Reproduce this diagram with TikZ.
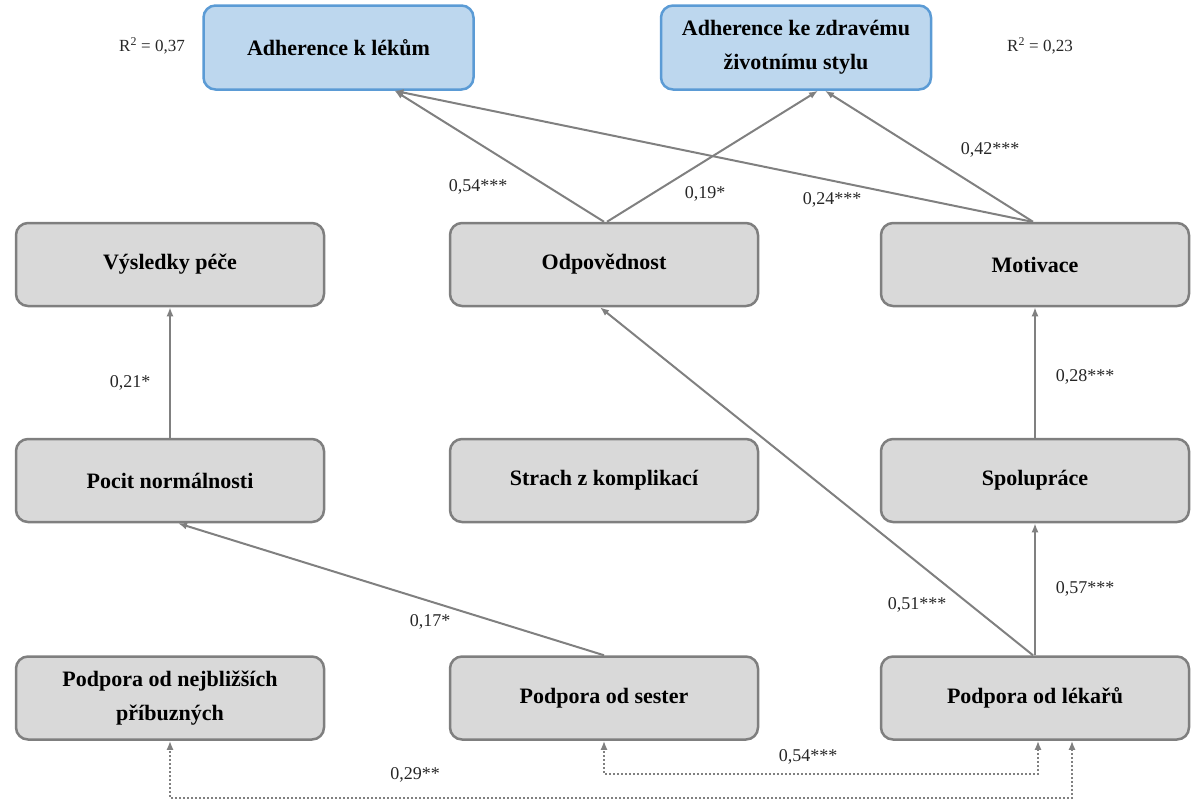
\documentclass[tikz,border=0pt]{standalone}
\usepackage{fontspec}
\setmainfont{Liberation Serif}
\usetikzlibrary{arrows.meta,positioning,calc}
\definecolor{boxfill}{HTML}{D9D9D9}
\definecolor{boxline}{HTML}{7F7F7F}
\definecolor{bluefill}{HTML}{BDD7EE}
\definecolor{blueline}{HTML}{5B9BD5}
\definecolor{arrowcol}{HTML}{808080}
\definecolor{labcol}{HTML}{262626}
\tikzset{
  graybox/.style={draw=boxline, fill=boxfill, line width=2.5pt, rounded corners=12pt,
    minimum width=308pt, minimum height=83pt, align=center,
    font=\fontsize{22}{34}\selectfont\bfseries, text=black},
  bluebox/.style={draw=blueline, fill=bluefill, line width=2.5pt, rounded corners=12pt,
    minimum width=270pt, minimum height=84pt, align=center,
    font=\fontsize{22}{34}\selectfont\bfseries, text=black},
  path/.style={draw=arrowcol, line width=2pt, -{Latex[length=9pt,width=7pt]}},
  corr/.style={draw=arrowcol, line width=2pt, dotted, {Latex[length=9pt,width=7pt]}-{Latex[length=9pt,width=7pt]}},
  coef/.style={font=\fontsize{18}{20}\selectfont, text=labcol},
}
\begin{document}
\begin{tikzpicture}[x=1pt,y=-1pt]
\useasboundingbox (0,0) rectangle (1196,801);
% top
\node[bluebox] (lek) at (338.5,47.5) {Adherence k lékům};
\node[bluebox] (zdr) at (796,47.5) {Adherence ke zdravému\\životnímu stylu};
\node[coef,font=\fontsize{17}{20}\selectfont] (r1) at (152,46) {R\textsuperscript{2} = 0,37};
\node[coef,font=\fontsize{17}{20}\selectfont] (r2) at (1040,46) {R\textsuperscript{2} = 0,23};
% row 1
\node[graybox] (vysl) at (170,264.5) {Výsledky péče};
\node[graybox] (odp) at (604,264.5) {Odpovědnost};
\node[graybox] (mot) at (1035,264.5) {Motivace};
% row 2
\node[graybox] (pocit) at (170,480.5) {Pocit normálnosti};
\node[graybox] (strach) at (604,480.5) {Strach z komplikací};
\node[graybox] (spol) at (1035,480.5) {Spolupráce};
% row 3
\node[graybox] (prib) at (170,698) {Podpora od nejbližších\\příbuzných};
\node[graybox] (sest) at (604,698) {Podpora od sester};
\node[graybox] (lekaru) at (1035,698) {Podpora od lékařů};
% paths
\draw[path] (odp.north) -- ([xshift=56pt]lek.south);
\draw[path] ([xshift=-3pt]mot.north) -- ([xshift=56pt]lek.south);
\draw[path] ([xshift=3pt]odp.north) -- ([xshift=22pt]zdr.south);
\draw[path] ([xshift=-2pt]mot.north) -- ([xshift=29pt]zdr.south);
\draw[path] (pocit.north) -- (vysl.south);
\draw[path] (spol.north) -- (mot.south);
\draw[path] (lekaru.north) -- (spol.south);
\draw[path] ([xshift=-2pt]lekaru.north) -- ([xshift=-4pt]odp.south);
\draw[path] (sest.north) -- ([xshift=8pt]pocit.south);
% correlations
\draw[corr] ([xshift=3pt]lekaru.south) -- ++(0,33) -| (sest.south);
\draw[corr] ([xshift=37pt]lekaru.south) -- ++(0,57) -| (prib.south);
% coefficients
\node[coef] (c1) at (478,187) {0,54***};
\node[coef] (c2) at (705,194) {0,19*};
\node[coef] (c3) at (832,200) {0,24***};
\node[coef] (c4) at (990,150) {0,42***};
\node[coef] (c5) at (130,383) {0,21*};
\node[coef] (c6) at (1085,377) {0,28***};
\node[coef] (c7) at (430,622) {0,17*};
\node[coef] (c8) at (917,605) {0,51***};
\node[coef] (c9) at (1085,589) {0,57***};
\node[coef] (c10) at (808,757) {0,54***};
\node[coef] (c11) at (415,775) {0,29**};
\end{tikzpicture}
\end{document}
